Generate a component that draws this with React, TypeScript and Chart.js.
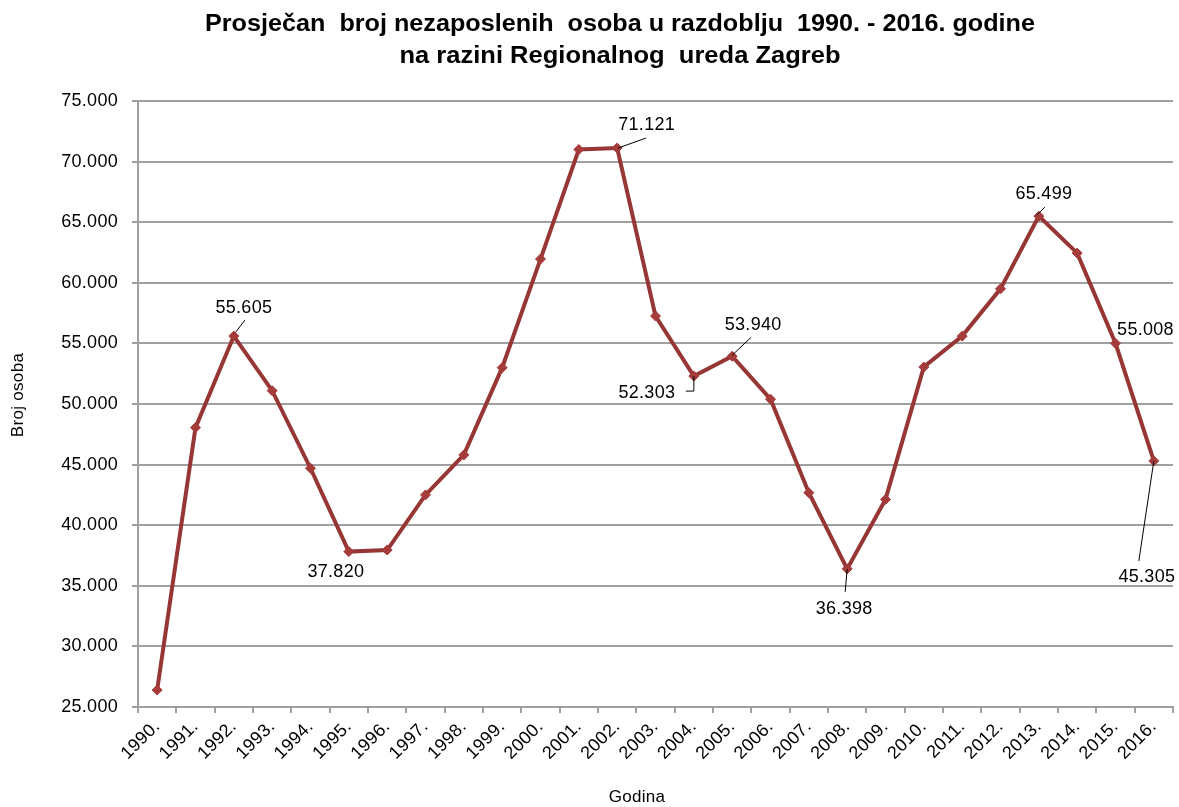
import { useEffect, useRef } from 'react';
import { Chart, registerables } from 'chart.js';

Chart.register(...registerables);

// ---- data ----
const years = [
  '1990.', '1991.', '1992.', '1993.', '1994.', '1995.', '1996.', '1997.', '1998.',
  '1999.', '2000.', '2001.', '2002.', '2003.', '2004.', '2005.', '2006.', '2007.',
  '2008.', '2009.', '2010.', '2011.', '2012.', '2013.', '2014.', '2015.', '2016.',
];
const unemployed = [
  26400, 48050, 55605, 51100, 44700, 37820, 37950, 42500, 45800,
  53000, 61960, 71000, 71121, 57260, 52303, 53940, 50400, 42680,
  36398, 42130, 53050, 55600, 59500, 65499, 62450, 55008, 45305,
];
const yMin = 25000;
const yMax = 75000;
const yStep = 5000;
const titleLines = [
  'Prosječan  broj nezaposlenih  osoba u razdoblju  1990. - 2016. godine',
  'na razini Regionalnog  ureda Zagreb',
];
const yAxisTitle = 'Broj osoba';
const xAxisTitle = 'Godina';
const labeledYears = ['1992.', '1995.', '2002.', '2004.', '2005.', '2008.', '2013.', '2015.', '2016.'];

// ---- styling / placement (not data) ----
const FONT = '"Liberation Sans", Arial, sans-serif';
const LINE_COLOR = '#973735';
const POINT_COLOR = '#A53B3A';
const GRID_COLOR = '#a0a0a0';
const SPACING = '0.3px';

type Spot = { dx: number; dy: number; leader?: number[][] };
const labelSpots: Spot[] = [
  { dx: 10, dy: -28, leader: [[2, -4], [11, -16]] },
  { dx: -13, dy: 20 },
  { dx: 29.5, dy: -23, leader: [[1, 0], [29, -10]] },
  { dx: -47, dy: 17, leader: [[0, 0], [0, 15], [-8, 15]] },
  { dx: 21, dy: -31, leader: [[0, -1], [19, -19]] },
  { dx: -3, dy: 40, leader: [[0, 0], [-2, 23]] },
  { dx: 5, dy: -22, leader: [[-2, -1], [6, -9]] },
  { dx: 30, dy: -13 },
  { dx: -7, dy: 116, leader: [[0, 0], [-15, 100]] },
];

const fmt = (v: number) => String(Math.round(v)).replace(/\B(?=(\d{3})+(?!\d))/g, '.');

const overlay = {
  id: 'overlay',
  beforeUpdate(chart: any) {
    chart.ctx.letterSpacing = SPACING;
  },
  beforeDraw(chart: any) {
    chart.ctx.letterSpacing = SPACING;
  },
  afterDatasetsDraw(chart: any) {
    const ctx = chart.ctx as CanvasRenderingContext2D;
    const meta = chart.getDatasetMeta(0);
    ctx.save();
    (ctx as any).letterSpacing = SPACING;
    ctx.font = `18px ${FONT}`;
    ctx.fillStyle = '#000';
    ctx.strokeStyle = '#000';
    ctx.lineWidth = 1;
    ctx.textAlign = 'center';
    ctx.textBaseline = 'middle';
    labeledYears.forEach((yr, i) => {
      const idx = years.indexOf(yr);
      const el = meta.data[idx];
      const s = labelSpots[i];
      if (!el || !s) return;
      const { x, y } = el;
      if (s.leader) {
        ctx.beginPath();
        s.leader.forEach(([lx, ly], k) => {
          if (k === 0) ctx.moveTo(x + lx, y + ly);
          else ctx.lineTo(x + lx, y + ly);
        });
        ctx.stroke();
      }
      ctx.fillText(fmt(unemployed[idx]), x + s.dx, y + s.dy);
    });

    // axis titles
    ctx.font = `17px ${FONT}`;
    ctx.fillText(xAxisTitle, 637, 797);
    ctx.save();
    ctx.translate(18, 395);
    ctx.rotate(-Math.PI / 2);
    ctx.fillText(yAxisTitle, 0, 0);
    ctx.restore();

    // chart title (condensed bold)
    (ctx as any).letterSpacing = '0px';
    ctx.font = `bold 21px ${FONT}`;
    const targets = [830, 441];
    const ys = [24, 56];
    titleLines.forEach((line, i) => {
      const w = ctx.measureText(line).width;
      ctx.save();
      ctx.translate(620, ys[i]);
      ctx.scale(targets[i] / w, 1.15);
      ctx.fillText(line, 0, 0);
      ctx.restore();
    });
    ctx.restore();
  },
};

export default function App() {
  const ref = useRef<HTMLCanvasElement>(null);
  useEffect(() => {
    if (!ref.current) return;
    const chart = new Chart(ref.current, {
      type: 'line',
      data: {
        labels: years,
        datasets: [
          {
            data: unemployed,
            borderColor: LINE_COLOR,
            borderWidth: 4,
            backgroundColor: POINT_COLOR,
            pointBackgroundColor: POINT_COLOR,
            pointBorderColor: POINT_COLOR,
            pointStyle: 'rectRot',
            pointRadius: 5,
            pointBorderWidth: 1,
            tension: 0,
            fill: false,
          },
        ],
      },
      options: {
        animation: false,
        responsive: true,
        maintainAspectRatio: false,
        layout: { padding: { top: 101, right: 4, left: 0, bottom: 0 } },
        plugins: {
          legend: { display: false },
          title: { display: false },
          tooltip: { enabled: false },
        },
        scales: {
          x: {
            type: 'category',
            offset: true,
            grid: {
              offset: true,
              drawOnChartArea: false,
              drawTicks: true,
              tickLength: 6,
              color: GRID_COLOR,
              lineWidth: 2,
            },
            border: { color: GRID_COLOR, width: 2 },
            ticks: {
              autoSkip: false,
              minRotation: 45,
              maxRotation: 45,
              padding: 3,
              color: '#000',
              font: { family: FONT, size: 18 },
            },
            afterFit(scale: any) {
              scale.height = 100;
              scale.paddingLeft = 0;
              scale.paddingRight = 0;
            },
          },
          y: {
            min: yMin,
            max: yMax,
            grid: {
              color: GRID_COLOR,
              lineWidth: 2,
              drawTicks: true,
              tickLength: 6,
            },
            border: { color: GRID_COLOR, width: 2 },
            ticks: {
              stepSize: yStep,
              padding: 14,
              color: '#000',
              font: { family: FONT, size: 18 },
              callback: (v: any) => fmt(Number(v)),
            },
            afterFit(scale: any) {
              scale.width = 138;
            },
          },
        },
      },
      plugins: [overlay],
    });
    return () => chart.destroy();
  }, []);
  return (
    <div style={{ position: 'fixed', left: 0, top: 0, width: 1179, height: 807, background: '#fff' }}>
      <canvas ref={ref} />
    </div>
  );
}
